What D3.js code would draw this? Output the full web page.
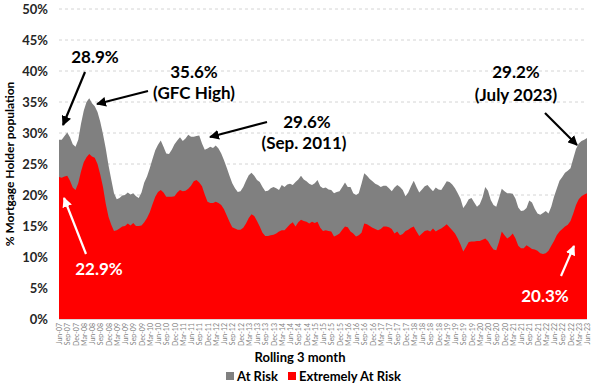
<!DOCTYPE html>
<html><head><meta charset="utf-8">
<script src="https://cdn.jsdelivr.net/npm/d3@7"></script>
<style>
html,body{margin:0;padding:0;background:#fff;}
svg{display:block;font-family:Lato,"Open Sans",sans-serif;}
</style></head>
<body><svg id="chart" width="600" height="391"></svg>
<script>
// Monthly observations Jun-07 .. Jun-23 (rolling 3 month)
const atRiskTotal = [
28.9,28.9,29.5,30.1,29.3,28.2,27.8,28.9,31.5,33.6,35.0,35.6,34.8,34.3,33.4,31.8,29.8,27.5,24.8,22.5,
20.3,19.3,19.5,19.9,20.0,20.4,20.1,20.3,19.8,19.5,20.4,22.0,23.0,24.3,25.8,27.2,28.1,28.8,27.8,26.7,
26.6,27.3,28.2,28.8,29.3,28.7,29.1,29.7,29.4,29.4,29.5,29.6,28.3,27.3,27.5,27.8,27.6,28.0,27.5,26.7,
25.6,24.4,23.1,21.9,21.1,20.5,20.6,21.3,22.3,23.2,23.6,23.1,22.4,22.1,21.3,20.6,20.7,21.1,21.3,21.1,
20.8,21.6,21.3,21.7,21.8,21.6,22.1,22.5,23.1,22.5,22.2,21.8,21.6,21.9,22.4,21.4,21.1,21.2,20.9,20.8,
20.3,20.5,20.6,21.3,22.0,21.3,21.3,20.3,20.0,20.3,21.8,23.5,23.1,22.6,22.2,21.8,21.6,21.3,21.5,21.5,
21.1,20.6,21.2,21.6,21.3,20.8,19.8,20.4,21.4,22.3,21.3,20.4,20.9,21.4,21.6,21.1,20.6,21.2,20.9,20.8,
21.5,22.2,22.1,21.7,21.1,20.3,19.4,17.9,18.5,19.3,19.5,18.8,18.1,18.5,19.6,21.3,20.7,19.2,18.4,18.1,
19.5,21.0,20.6,20.3,20.3,20.2,19.4,18.0,17.4,17.5,17.9,19.1,18.8,17.8,17.0,16.8,17.1,17.4,17.0,18.1,
19.7,21.0,22.3,22.9,23.6,23.9,24.3,25.9,27.4,28.3,28.7,28.9,29.2
];
const extremelyAtRisk = [
22.9,22.8,23.0,23.1,22.3,21.2,20.8,21.9,23.8,25.3,26.1,26.6,26.2,26.0,25.0,23.3,21.3,18.6,16.5,15.2,
14.2,14.3,14.6,14.9,15.0,15.4,15.1,15.5,15.0,15.0,15.1,15.6,16.3,17.2,18.5,19.7,20.5,20.8,20.4,19.7,
19.7,19.7,19.8,20.4,20.8,20.6,20.7,21.0,21.5,22.2,22.4,22.0,21.4,20.1,18.9,18.7,18.7,18.9,18.7,18.4,
17.7,16.7,15.7,14.8,14.6,14.4,14.4,14.7,15.4,16.3,16.9,16.6,15.8,14.9,13.9,13.4,13.4,13.5,13.6,13.8,
14.1,14.3,14.3,14.8,15.3,15.6,14.9,15.6,16.0,15.8,15.7,15.4,15.7,15.5,15.7,14.7,14.2,14.3,14.2,14.1,
13.3,13.5,13.8,14.4,14.9,14.8,14.1,13.8,13.3,13.5,13.9,15.4,15.3,15.0,14.7,14.5,14.3,14.5,14.9,14.9,
14.8,14.5,13.8,14.1,13.5,13.7,14.2,14.4,14.7,14.9,14.1,13.4,13.8,14.2,14.3,14.1,14.6,14.1,14.4,14.6,
14.9,15.3,14.8,14.3,13.8,13.0,12.0,10.9,11.6,12.4,12.5,12.5,12.6,12.6,12.8,13.0,12.6,11.8,11.2,11.1,
12.4,14.1,13.5,13.0,13.3,13.8,13.0,11.8,11.4,11.4,11.9,11.6,11.3,11.2,11.0,10.6,10.5,10.6,11.0,11.8,
12.6,13.5,14.1,14.5,14.9,15.2,15.8,17.0,18.4,19.3,19.8,20.1,20.3
];
const tickLabels = [
"Jun-07","Sep-07","Dec-07","Mar-08","Jun-08","Sep-08","Dec-08","Mar-09","Jun-09","Sep-09","Dec-09",
"Mar-10","Jun-10","Sep-10","Dec-10","Mar-11","Jun-11","Sep-11","Dec-11","Mar-12","Jun-12","Sep-12","Dec-12",
"Mar-13","Jun-13","Sep-13","Dec-13","Mar-14","Jun-14","Sep-14","Dec-14","Mar-15","Jun-15","Sep-15","Dec-15",
"Mar-16","Jun-16","Sep-16","Dec-16","Mar-17","Jun-17","Sep-17","Dec-17","Mar-18","Jun-18","Sep-18","Dec-18",
"Mar-19","Jun-19","Sep-19","Dec-19","Mar-20","Jun-20","Sep-20","Dec-20","Mar-21","Jun-21","Sep-21","Dec-21",
"Mar-22","Jun-22","Sep-22","Dec-22","Mar-23","Jun-23"
];
const yTicks = [0,5,10,15,20,25,30,35,40,45,50];
const seriesNames = ["At Risk","Extremely At Risk"];
const seriesColors = ["#808080","#ff0000"];

const svg = d3.select("#chart");
const x = d3.scaleLinear().domain([0, atRiskTotal.length-1]).range([59, 587]);
const y = d3.scaleLinear().domain([0, 50]).range([319, 9]);

// gridlines
svg.append("g").selectAll("line").data(yTicks.filter(d=>d>0)).join("line")
  .attr("x1",59).attr("x2",587).attr("y1",d=>y(d)).attr("y2",d=>y(d))
  .attr("stroke","#d4d4d4").attr("stroke-width",1).attr("stroke-dasharray","3,3");

// areas
const idx = d3.range(atRiskTotal.length);
svg.append("path").datum(idx)
  .attr("fill",seriesColors[0])
  .attr("d", d3.area().x(i=>x(i)).y0(y(0)).y1(i=>y(atRiskTotal[i])));
svg.append("path").datum(idx)
  .attr("fill",seriesColors[1])
  .attr("d", d3.area().x(i=>x(i)).y0(y(0)).y1(i=>y(extremelyAtRisk[i])));

// y axis
const yAxis = svg.append("g").attr("transform","translate(59,0)")
  .call(d3.axisLeft(y).tickValues(yTicks).tickFormat(d=>d+"%").tickSize(0).tickPadding(11));
yAxis.select(".domain").remove();
yAxis.selectAll("text").attr("font-size",13).attr("font-weight","bold").attr("fill","#262626")
  .attr("font-family","Lato,sans-serif");

// x axis
svg.append("line").attr("x1",59).attr("x2",587).attr("y1",319.5).attr("y2",319.5).attr("stroke","#d9d9d9");
const xAxis = svg.append("g").attr("transform","translate(0,319)")
  .call(d3.axisBottom(x).tickValues(tickLabels.map((d,i)=>i*3)).tickFormat((d,i)=>tickLabels[i]).tickSize(0));
xAxis.select(".domain").remove();
xAxis.selectAll("text")
  .attr("font-size",7).attr("fill","#7f7f7f").attr("font-family","Lato,sans-serif")
  .attr("text-anchor","end").attr("dy",null)
  .attr("transform",function(){return "translate(2.5,4) rotate(-90)";})
  .attr("x",0).attr("y",0);

// axis titles
svg.append("text").attr("x",300).attr("y",362).attr("text-anchor","middle")
  .attr("font-size",13).attr("font-weight","bold").attr("fill","#000").text("Rolling 3 month");
svg.append("text").attr("transform","translate(14,164) rotate(-90)").attr("text-anchor","middle")
  .attr("font-size",12).attr("font-weight","bold").attr("fill","#000").text("% Mortgage Holder population");

// legend
const leg = svg.append("g");
const legItems = [{x:226,name:seriesNames[0],c:seriesColors[0]},{x:288,name:seriesNames[1],c:seriesColors[1]}];
legItems.forEach(it=>{
  leg.append("rect").attr("x",it.x).attr("y",372).attr("width",8).attr("height",8).attr("fill",it.c);
  leg.append("text").attr("x",it.x+11).attr("y",381).attr("font-size",13).attr("font-weight","bold")
    .attr("fill","#000").text(it.name);
});

// arrows
const defs = svg.append("defs");
[["ahBlack","#000"],["ahWhite","#fff"]].forEach(([id,c])=>{
  defs.append("marker").attr("id",id).attr("viewBox","0 0 10 10").attr("refX",9).attr("refY",5)
    .attr("markerWidth",4.5).attr("markerHeight",4.5).attr("orient","auto")
    .append("path").attr("d","M0,0 L10,5 L0,10 z").attr("fill",c);
});
function arrow(x1,y1,x2,y2,c){
  svg.append("line").attr("x1",x1).attr("y1",y1).attr("x2",x2).attr("y2",y2)
    .attr("stroke",c).attr("stroke-width",2.2)
    .attr("marker-end", c==="#fff" ? "url(#ahWhite)" : "url(#ahBlack)");
}
function label(x0,y0,t,c){
  svg.append("text").attr("x",x0).attr("y",y0).attr("text-anchor","middle")
    .attr("font-size",17).attr("font-weight","bold").attr("fill",c).text(t);
}
label(95,63,"28.9%","#000");
arrow(85,72,63,125,"#000");
label(194,78,"35.6%","#000");
label(194,99,"(GFC High)","#000");
arrow(148,91,97,104,"#000");
label(307,128,"29.6%","#000");
label(304,149,"(Sep. 2011)","#000");
arrow(267,122,210,137,"#000");
label(516,78,"29.2%","#000");
label(516,101,"(July 2023)","#000");
arrow(545,113,577,145,"#000");
label(99,275,"22.9%","#fff");
arrow(86,254,64,198,"#fff");
label(545,302,"20.3%","#fff");
arrow(561,276,574,246,"#fff");
</script></body></html>
